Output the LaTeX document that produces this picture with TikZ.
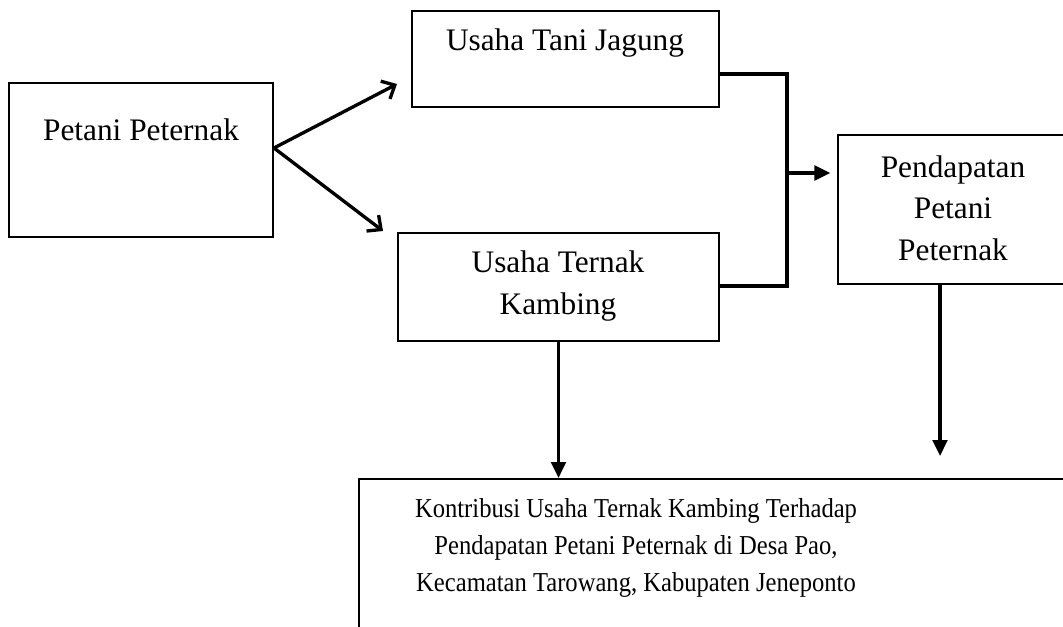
\documentclass[tikz,border=0pt]{standalone}
\usepackage{fontspec}
\setmainfont{Liberation Serif}
\newfontfamily\narrowserif[FakeStretch=0.9]{Liberation Serif}
\usetikzlibrary{arrows.meta,calc}
\begin{document}
\begin{tikzpicture}[x=0.75pt,y=-0.75pt,
  box/.style={draw,line width=1.5pt,rectangle,inner sep=0pt},
  txt/.style={align=center,font=\fontsize{23.5}{31}\selectfont,inner sep=0pt},
  bigtxt/.style={align=center,font=\narrowserif\fontsize{20.5}{28}\selectfont,inner sep=0pt},
  conn/.style={line width=2.5pt},
  barb/.style={conn,-{Straight Barb[length=8pt,width=15pt,line width=2.5pt]}},
  tri/.style={conn,-{Triangle[length=12pt,width=11pt]}}]
\useasboundingbox (0,0) rectangle (1063,626);
\clip (0,0) rectangle (1063,626);
% boxes
\node[box,minimum width=198pt,minimum height=115.5pt] (A) at (141,160) {};
\node[box,minimum width=230.25pt,minimum height=72pt] (B) at (565.5,59) {};
\node[box,minimum width=240.75pt,minimum height=81pt] (C) at (558.5,287) {};
\node[box,minimum width=172.5pt,minimum height=111.75pt] (D) at (953,209.5) {};
\node[box,minimum width=555.75pt,minimum height=210.75pt] (E) at (729.5,619.5) {};
% texts
\node[txt] (tA) at (141,130) {Petani Peternak};
\node[txt] (tB) at (565,43) {Usaha Tani Jagung};
\node[txt] (tC) at (558,286) {Usaha Ternak\\Kambing};
\node[txt] (tD) at (953,208) {Pendapatan\\Petani\\Peternak};
\node[bigtxt] (tE) at (636,548) {Kontribusi Usaha Ternak Kambing Terhadap\\Pendapatan Petani Peternak di Desa Pao,\\Kecamatan Tarowang, Kabupaten Jeneponto};
% coordinates
\coordinate (s) at ($(A.east)+(0,-12)$);
\coordinate (a1) at (397,84);
\coordinate (a2) at (383,231);
\coordinate (bt) at (719,74);
\coordinate (cb) at (719,286);
\coordinate (j) at (787,173);
% connectors
\draw[barb] (s) -- (a1);
\draw[barb] (s) -- (a2);
\draw[conn,line cap=rect] (B.east |- bt) -- (j |- bt) -- (j |- cb) -- (C.east |- cb);
\draw[tri,shorten >=5pt] (j) -- (j -| D.west);
\draw[tri] (C.south) -- (C.south |- E.north);
\draw[tri,shorten >=16.5pt] ($(D.south)+(-13,0)$) -- ($(D.south |- E.north)+(-13,0)$);
\end{tikzpicture}
\end{document}
